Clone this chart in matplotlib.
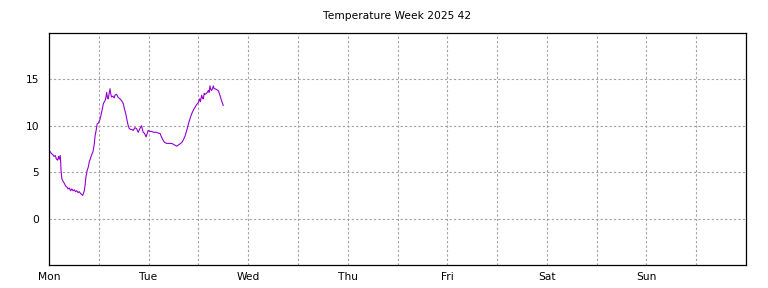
import matplotlib as mpl
mpl.use('agg')
import matplotlib.pyplot as plt
from matplotlib.ticker import MultipleLocator

title = 'Temperature Week 2025 42'
day_labels = ['Mon', 'Tue', 'Wed', 'Thu', 'Fri', 'Sat', 'Sun']

# hours since Monday 00:00
hours = [
    0.0, 0.3, 0.6, 0.9, 1.2, 1.5, 1.8, 2.1, 2.3, 2.5, 2.7, 2.8, 2.9, 3.1, 3.4,
    3.7, 4.0, 4.3, 4.6, 4.9, 5.2, 5.5, 5.8, 6.1, 6.4, 6.7, 7.0, 7.3, 7.6, 7.9,
    8.1, 8.3, 8.5, 8.7, 8.9, 9.2, 9.5, 9.7, 10.0, 10.3, 10.6, 10.9, 11.1, 11.4,
    11.6, 11.9, 12.3, 12.6, 12.9, 13.1, 13.5, 13.7, 13.9, 14.1, 14.3, 14.5,
    14.7, 14.9, 15.1, 15.4, 15.7, 15.9, 16.3, 16.6, 17.1, 17.5, 17.9, 18.2,
    18.5, 18.8, 19.1, 19.35, 19.7, 20.0, 20.3, 20.7, 21.1, 21.5, 21.9, 22.3,
    22.7, 23.0, 23.4, 23.7, 23.9, 24.3, 24.75, 25.2, 25.6, 25.96, 26.4, 26.75,
    27.1, 27.55, 27.9, 28.4, 28.9, 29.3, 29.6, 30.0, 30.4, 30.8, 31.1, 31.4,
    31.7, 32.0, 32.4, 32.8, 33.2, 33.6, 34.0, 34.4, 34.8, 35.2, 35.6, 36.0,
    36.3, 36.5, 36.8, 37.0, 37.2, 37.4, 37.6, 38.0, 38.4, 38.6, 38.8, 39.0,
    39.2, 39.4, 39.6, 39.8, 40.0, 40.4, 40.8, 41.2, 41.6, 42.0,
]
temps = [
    7.3, 7.2, 7.0, 6.9, 6.7, 6.8, 6.4, 6.3, 6.7, 6.4, 6.8, 6.2, 5.2, 4.3, 4.0,
    3.8, 3.5, 3.4, 3.2, 3.3, 3.0, 3.2, 3.0, 3.1, 2.9, 3.0, 2.8, 2.9, 2.7, 2.6,
    2.5, 2.7, 3.0, 3.6, 4.5, 5.2, 5.6, 6.1, 6.5, 6.9, 7.2, 8.0, 8.9, 9.6,
    10.2, 10.3, 10.7, 11.3, 11.9, 12.4, 12.7, 13.0, 13.6, 13.0, 12.9, 13.5,
    14.0, 13.4, 13.1, 13.2, 13.0, 13.3, 13.4, 13.1, 12.9, 12.7, 12.4, 11.8,
    11.3, 10.6, 10.0, 9.7, 9.6, 9.6, 9.5, 9.8, 9.7, 9.3, 9.7, 10.0,
    9.3, 9.2, 8.8, 9.2, 9.5, 9.4, 9.4, 9.3, 9.3, 9.3, 9.2, 9.2,
    8.8, 8.4, 8.2, 8.1, 8.1, 8.1, 8.1, 8.0, 7.9, 7.8, 7.9, 8.0,
    8.1, 8.2, 8.5, 8.9, 9.5, 10.2, 10.8, 11.3, 11.7, 12.0, 12.3, 12.5,
    12.9, 12.6, 13.3, 13.0, 12.9, 13.5, 13.4, 13.5, 13.8, 13.6, 14.3, 13.9,
    13.8, 14.0, 14.3, 14.0, 14.0, 13.9, 13.8, 13.3, 12.7, 12.2,
]
days = [h / 24.0 for h in hours]

plt.rcParams['font.family'] = 'DejaVu Sans'
plt.rcParams['font.size'] = 7.7

fig = plt.figure(figsize=(7.68, 2.88), dpi=100)
ax = fig.add_axes([49 / 768, 23 / 288, 697 / 768, 232 / 288])

ax.plot(days, temps, color='#9400d3', lw=0.8)

ax.set_xlim(0, 7)
ax.set_ylim(-5, 20)
ax.set_xticks(range(len(day_labels)))
ax.set_xticklabels(day_labels)
ax.xaxis.set_minor_locator(MultipleLocator(0.5))
ax.set_yticks([0, 5, 10, 15])

ax.grid(True, which='both', axis='x', color='#a0a0a0', ls=(0, (2, 2)), lw=0.8)
ax.grid(True, which='major', axis='y', color='#a0a0a0', ls=(0, (2, 2)), lw=0.8)
ax.tick_params(which='both', length=0)
ax.tick_params(axis='x', pad=5)
ax.tick_params(axis='y', pad=7)
for s in ax.spines.values():
    s.set_linewidth(0.9)

fig.text(397 / 768, 1 - 16 / 288, title, ha='center', va='center', fontsize=7.7)

fig.savefig('out.png', dpi=100)
